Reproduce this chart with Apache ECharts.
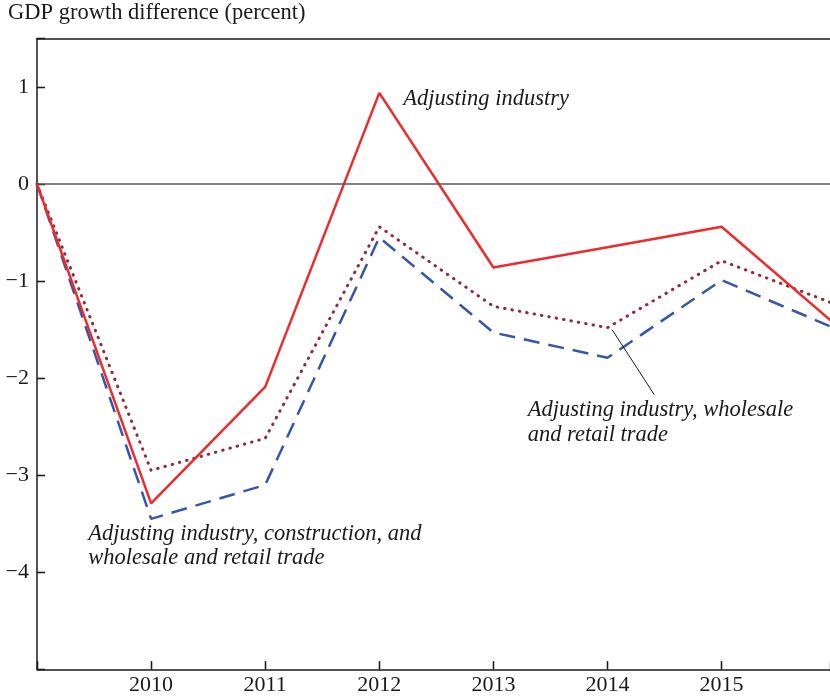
<!DOCTYPE html>
<html><head><meta charset="utf-8">
<script src="https://cdn.jsdelivr.net/npm/echarts@6/dist/echarts.min.js"></script>
<style>html,body{margin:0;padding:0;background:#fff}#c{width:830px;height:699px}</style>
</head><body><div id="c"></div>
<script>
const years = [2009, 2010, 2011, 2012, 2013, 2014, 2015, 2016];
const industry = [0, -3.29, -2.09, 0.94, -0.86, -0.65, -0.44, -1.45];
const industryTrade = [0, -2.95, -2.62, -0.44, -1.26, -1.48, -0.79, -1.24];
const industryConstrTrade = [0, -3.45, -3.10, -0.55, -1.53, -1.79, -0.99, -1.49];
const yTickLabels = {"-4": "\u22124", "-3": "\u22123", "-2": "\u22122", "-1": "\u22121", "0": "0", "1": "1"};
const xTickLabels = ["2010", "2011", "2012", "2013", "2014", "2015"];
const title = "GDP growth difference (percent)";
const annotationText = [
  "Adjusting industry",
  "Adjusting industry, wholesale\nand retail trade",
  "Adjusting industry, construction, and\nwholesale and retail trade"
];
const annotationAt = [[2012.21, 0.876], [2013.30, -2.46], [2009.45, -3.73]];
const pointer = [[2014.04, -1.50], [2014.41, -2.17]];

const FONT = '"Liberation Serif", "Times New Roman", serif';
const axisCol = '#1a1a1a';
const chart = echarts.init(document.getElementById('c'));
const mk = (vals) => years.map((y, i) => [y, vals[i]]);
const tickStyle = {show: true, inside: true, length: 8, lineStyle: {color: axisCol, width: 1.3}};
chart.setOption({
  animation: false,
  title: {text: title, left: 8, top: 2, padding: 0,
    textStyle: {fontFamily: FONT, fontSize: 22.5, fontWeight: 'normal', color: axisCol}},
  grid: {left: 37, right: 0, top: 38.5, bottom: 29.7, show: false, containLabel: false, outerBoundsMode: 'none'},
  xAxis: [{
    type: 'value', min: 2009, max: 2015.95, interval: 1,
    axisLine: {show: true, onZero: false, lineStyle: {color: axisCol, width: 1.5}},
    axisTick: tickStyle,
    splitLine: {show: false},
    axisLabel: {
      margin: 5, fontFamily: FONT, fontSize: 22, color: axisCol, showMaxLabel: false,
      formatter: v => xTickLabels.includes(String(v)) ? String(v) : ''
    }
  }, {
    type: 'value', position: 'top', min: 2009, max: 2015.95, interval: 1,
    axisLine: {show: true, onZero: false, lineStyle: {color: axisCol, width: 1.5}},
    axisTick: {show: false}, axisLabel: {show: false}, splitLine: {show: false}
  }, {
    type: 'value', position: 'bottom', min: 2009, max: 2015.95, interval: 1,
    axisLine: {show: false, onZero: false},
    axisTick: tickStyle, axisLabel: {show: false}, splitLine: {show: false}
  }],
  yAxis: [{
    type: 'value', min: -5, max: 1.5, interval: 1,
    axisLine: {show: true, onZero: false, lineStyle: {color: axisCol, width: 1.5}},
    axisTick: tickStyle,
    splitLine: {show: false},
    axisLabel: {
      margin: 8, fontFamily: FONT, fontSize: 22, color: axisCol,
      formatter: v => yTickLabels[String(v)] !== undefined ? yTickLabels[String(v)] : ''
    }
  }, {
    type: 'value', position: 'left', offset: 0, min: -5, max: 1.5, interval: 1,
    axisLine: {show: false, onZero: false},
    axisTick: tickStyle, axisLabel: {show: false}, splitLine: {show: false}
  }],
  series: [
    {type: 'line', data: mk(industryConstrTrade), showSymbol: false, silent: true,
     lineStyle: {color: '#3656a8', width: 2.5, type: [16, 9]},
     markLine: {silent: true, symbol: 'none', label: {show: false}, lineStyle: {color: '#5a5a5a', width: 1.5, type: 'solid'},
       data: [{yAxis: 0}, [{coord: pointer[0], lineStyle: {color: axisCol, width: 1}}, {coord: pointer[1]}]]}},
    {type: 'line', data: mk(industryTrade), showSymbol: false, silent: true,
     lineStyle: {color: '#8e2c3c', width: 3, type: [0.5, 7], cap: 'round'}},
    {type: 'line', data: mk(industry), showSymbol: false, silent: true,
     lineStyle: {color: '#ee2a2e', width: 2.5},
     markPoint: {silent: true, symbol: 'circle', symbolSize: 0.01,
       label: {show: true, position: 'right', distance: 0, fontFamily: FONT, fontSize: 22.5, fontStyle: 'italic',
         color: axisCol, lineHeight: 24.5, align: 'left', verticalAlign: 'middle', formatter: p => p.name},
       data: annotationAt.map((c, i) => ({name: annotationText[i], coord: c}))}}
  ]
});
</script></body></html>
